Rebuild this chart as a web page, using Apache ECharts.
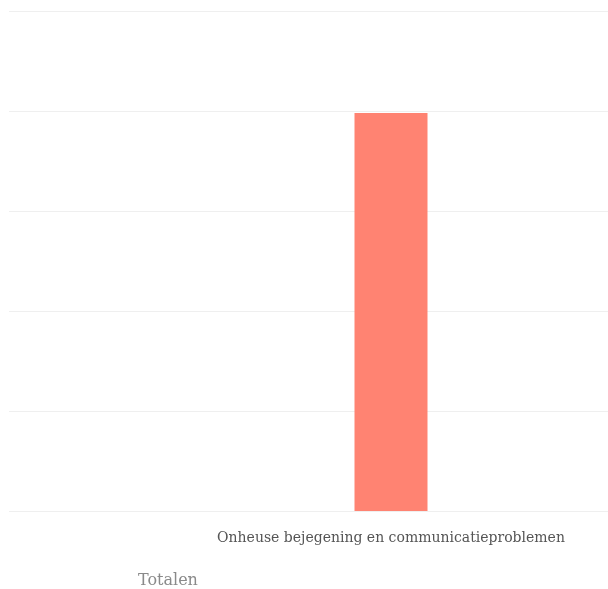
<!DOCTYPE html>
<html>
<head>
<meta charset="utf-8">
<script src="https://cdn.jsdelivr.net/npm/echarts@6/dist/echarts.min.js"></script>
<style>
  html, body { margin: 0; padding: 0; background: #fff; overflow: hidden; width: 608px; height: 589px; }
  #chart { width: 773px; height: 589px; }
</style>
</head>
<body>
<div id="chart"></div>
<script>
// Complaint categories and their totals
const categories = ['Onheuse bejegening en communicatieproblemen'];
const seriesName = 'Totalen';
const totals = [3.98];
const yMin = 0;
const yMax = 5;
const yInterval = 1;

const chart = echarts.init(document.getElementById('chart'), null, { renderer: 'canvas' });

chart.setOption({
  animation: false,
  backgroundColor: '#ffffff',
  textStyle: { fontFamily: 'DejaVu Serif' },
  grid: { left: 9, right: 0, top: 11, bottom: 78, containLabel: false },
  legend: {
    data: [seriesName],
    left: 128,
    top: 568,
    icon: 'none',
    itemWidth: 0,
    itemGap: 0,
    selectedMode: false,
    textStyle: { color: '#8a8a8a', fontSize: 16, fontFamily: 'DejaVu Serif' }
  },
  xAxis: {
    type: 'category',
    data: categories,
    axisLine: { show: false },
    axisTick: { show: false },
    axisLabel: { color: '#555555', fontSize: 14, margin: 20, fontFamily: 'DejaVu Serif' }
  },
  yAxis: {
    type: 'value',
    min: yMin,
    max: yMax,
    interval: yInterval,
    axisLabel: { show: false },
    axisLine: { show: false },
    axisTick: { show: false },
    splitLine: { lineStyle: { color: '#efefef', width: 1 } }
  },
  series: [{
    name: seriesName,
    type: 'bar',
    data: totals,
    barWidth: 73,
    itemStyle: { color: '#ff8372' }
  }]
});
</script>
</body>
</html>
